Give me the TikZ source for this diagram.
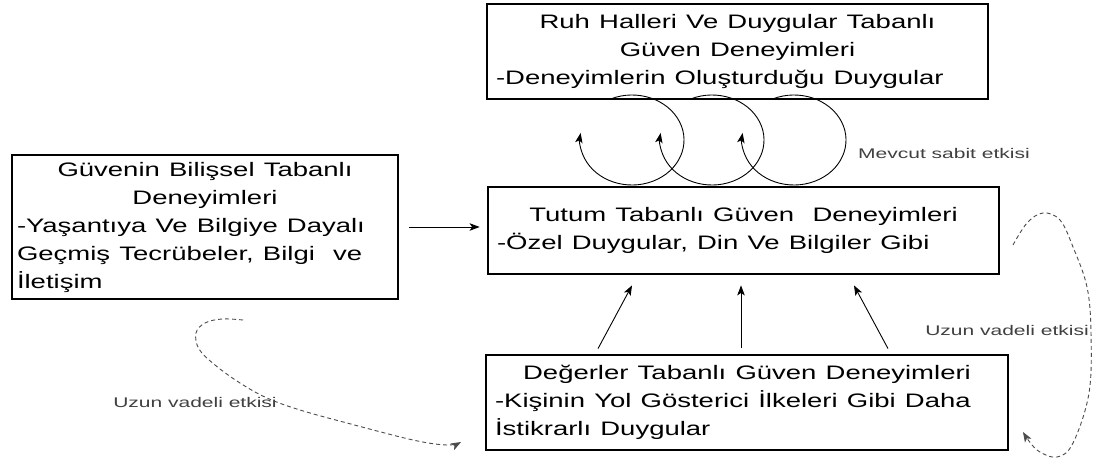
\documentclass[tikz,border=0pt]{standalone}
\usepackage{fontspec}
\setmainfont{Liberation Sans}
\usepackage{graphicx}
\usetikzlibrary{arrows.meta}
\setlength{\parindent}{0pt}
\newcommand{\stx}[1]{\scalebox{1.41}[1]{#1}}
\newcommand{\cenln}[1]{\makebox[\linewidth]{\stx{#1}}\par}
\newcommand{\lftln}[1]{\makebox[\linewidth][l]{\stx{#1}}\par}
\begin{document}
\begin{tikzpicture}[x=1pt,y=1pt,
  box/.style={draw, line width=2.8pt, inner sep=0pt, align=left,
    font=\fontsize{19.5}{28}\selectfont},
  arr/.style={-{Stealth[length=10pt,width=7.5pt,inset=2.5pt]}, line width=0.9pt},
  darr/.style={-{Stealth[length=10pt,width=7.5pt,inset=2.5pt]}, line width=0.9pt,
    dash pattern=on 4pt off 3pt, draw=black!70},
  lbl/.style={font=\fontsize{14}{16}\selectfont, text=black!75, inner sep=0pt}]
\useasboundingbox (0,0) rectangle (1094,-463);
\fill[white] (0,0) rectangle (1094,-463);

\node[box, minimum width=501pt, minimum height=95pt, text width=483pt] (top) at (737.5,-51.5)
  {\cenln{Ruh Halleri Ve Duygular Tabanlı}\cenln{Güven Deneyimleri}\lftln{-Deneyimlerin Oluşturduğu Duygular}};
\node[box, minimum width=511pt, minimum height=87pt, text width=493pt] (mid) at (743.5,-230.5)
  {\cenln{Tutum Tabanlı Güven\ \ Deneyimleri}\lftln{-Özel Duygular, Din Ve Bilgiler Gibi}};
\node[box, minimum width=386pt, minimum height=144pt, text width=376pt] (left) at (205,-227)
  {\cenln{Güvenin Bilişsel Tabanlı}\cenln{Deneyimleri}\lftln{-Yaşantıya Ve Bilgiye Dayalı}\lftln{Geçmiş Tecrübeler, Bilgi\ \ ve}\lftln{İletişim}};
\node[box, minimum width=522pt, minimum height=95pt, text width=504pt] (bot) at (747,-402.5)
  {\cenln{Değerler Tabanlı Güven Deneyimleri}\lftln{-Kişinin Yol Gösterici İlkeleri Gibi Daha}\lftln{İstikrarlı Duygular}};

% left -> middle
\draw[arr] ([xshift=10pt]left.east) -- ([xshift=-7pt,yshift=3.5pt]mid.west);
% bottom -> middle
\draw[arr] ([shift={(-149pt,5pt)}]bot.north) -- ([shift={(-111.5pt,-10pt)}]mid.south);
\draw[arr] ([shift={(-6pt,6pt)}]bot.north) -- ([shift={(-2.5pt,-10pt)}]mid.south);
\draw[arr] ([shift={(141pt,5pt)}]bot.north) -- ([shift={(110.5pt,-10pt)}]mid.south);

% loops between top and middle
\foreach \cx in {632,712,794}{
  \draw[arr] (\cx,-140) ++(114:52pt and 45pt) arc[start angle=114, end angle=-189, x radius=52pt, y radius=45pt];
}
\node[lbl, anchor=west] (mevcut) at (858,-153) {\scalebox{1.5}[1]{Mevcut sabit etkisi}};

% long-term effect (left)
\node[lbl] (uz1) at (195,-402) {\scalebox{1.5}[1]{Uzun vadeli etkisi}};
\draw[darr] plot[smooth, tension=0.6] coordinates {(243,-320) (222,-319) (205,-323) (196,-333) (199,-349) (215,-365) (240,-383) (267,-398) (300,-410) (347,-423) (413,-440) (447,-445) (461,-442)};

% long-term effect (right)
\node[lbl] (uz2) at (1007,-330) {\scalebox{1.5}[1]{Uzun vadeli etkisi}};
\draw[darr] plot[smooth, tension=0.6] coordinates {(1013,-245) (1027,-223) (1043,-213) (1060,-220) (1073,-247) (1087,-287) (1091,-333) (1089,-393) (1073,-443) (1057,-457) (1037,-450) (1023,-432)};
\end{tikzpicture}
\end{document}
